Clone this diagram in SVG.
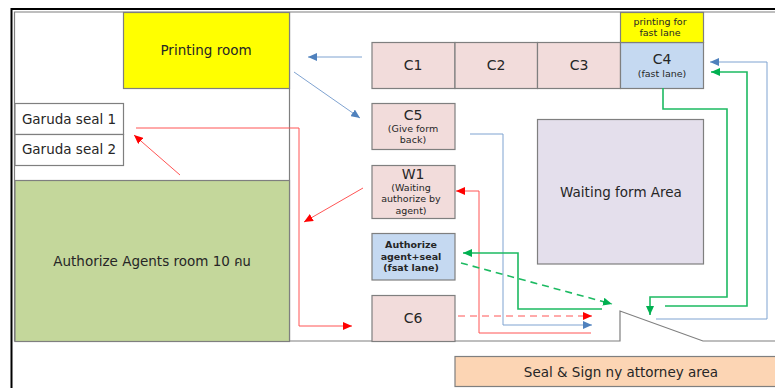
<svg xmlns="http://www.w3.org/2000/svg" width="775" height="388" viewBox="0 0 775 388">
<style>
text{font-family:"DejaVu Sans","Noto Sans","Noto Sans Thai",sans-serif;fill:#262626;text-anchor:middle}
.b{stroke:#7f7f7f;stroke-width:1.2}
.p{fill:#f2dcdb}.t{font-size:13.5px}.s{font-size:9.5px}.c{font-size:14px}
.l{fill:none;stroke-width:1}
.blue{stroke:#7fa3d1}.red{stroke:#f55}.green{stroke:#1dba62;stroke-width:1.6}
</style>
<defs>
<marker id="mb" markerUnits="userSpaceOnUse" markerWidth="10" markerHeight="8" refX="9" refY="4" orient="auto"><path d="M0 0L9 4L0 8z" fill="#4f81bd"/></marker>
<marker id="mr" markerUnits="userSpaceOnUse" markerWidth="10" markerHeight="8" refX="9" refY="4" orient="auto"><path d="M0 0L9 4L0 8z" fill="#f00"/></marker>
<marker id="mg" markerUnits="userSpaceOnUse" markerWidth="10" markerHeight="8" refX="9" refY="4" orient="auto"><path d="M0 0L9 4L0 8z" fill="#00b050"/></marker>
</defs>
<rect width="775" height="388" fill="#fff"/>
<g id="frame" fill="none">
<path d="M775 9H11.5V388" stroke="#000" stroke-width="2"/>
<path d="M775 12H14.5V341H620V311L703 341H775M289.500 12V341" stroke="#7f7f7f" stroke-width="1.2"/>
</g>
<g id="printing-room"><rect class="b" x="123.500" y="12.500" width="166" height="76" fill="#ff0"/><text class="t" x="206" y="55">Printing room</text></g>
<g id="garuda-1"><rect class="b" x="15" y="103.500" width="108.500" height="31" fill="#fff"/><text class="t" x="69" y="124">Garuda seal 1</text></g>
<g id="garuda-2"><rect class="b" x="15" y="134.500" width="108.500" height="31" fill="#fff"/><text class="t" x="69" y="154">Garuda seal 2</text></g>
<g id="agents-room"><rect class="b" x="15" y="180.500" width="274.500" height="161" fill="#c4d79b"/><text class="t" x="152" y="266">Authorize Agents room 10 คน</text></g>
<g id="c1"><rect class="b p" x="372" y="42.500" width="83" height="46"/><text class="c" x="413" y="70">C1</text></g>
<g id="c2"><rect class="b p" x="455" y="42.500" width="82.500" height="46"/><text class="c" x="496" y="70">C2</text></g>
<g id="c3"><rect class="b p" x="537.500" y="42.500" width="83" height="46"/><text class="c" x="579" y="70">C3</text></g>
<g id="c4"><rect class="b" x="620.500" y="42.500" width="83" height="46" fill="#c5d9f1"/><text class="c" x="662" y="64">C4</text><text class="s" x="662" y="77">(fast lane)</text></g>
<g id="printing-fast"><rect class="b" x="620.500" y="12.500" width="83" height="30" fill="#ff0"/><text class="s" x="660" y="25">printing for</text><text class="s" x="660" y="36">fast lane</text></g>
<g id="c5"><rect class="b p" x="372" y="103.500" width="83" height="46"/><text class="c" x="413" y="120">C5</text><text class="s" x="413" y="132">(Give form</text><text class="s" x="413" y="143">back)</text></g>
<g id="w1"><rect class="b p" x="372" y="165.500" width="83" height="53"/><text class="c" x="413" y="179">W1</text><text class="s" x="411" y="191">(Waiting</text><text class="s" x="411" y="202">authorize by</text><text class="s" x="411" y="214">agent)</text></g>
<g id="authorize"><rect class="b" x="372" y="233.500" width="83" height="46.500" fill="#c5d9f1"/><text class="s" x="411" y="248" font-weight="bold">Authorize</text><text class="s" x="411" y="260" font-weight="bold">agent+seal</text><text class="s" x="411" y="271" font-weight="bold">(fsat lane)</text></g>
<g id="c6"><rect class="b p" x="372" y="295.500" width="83" height="46"/><text class="c" x="413" y="323">C6</text></g>
<g id="waiting"><rect class="b" x="537.500" y="119.500" width="166" height="144.500" fill="#e4dfec"/><text class="t" x="621" y="197">Waiting form Area</text></g>
<g id="seal-sign"><rect class="b" x="455" y="356.500" width="325" height="30" fill="#fcd5b4"/><text class="t" x="621" y="377">Seal &amp; Sign ny attorney area</text></g>
<g id="connectors">
<path class="l blue" d="M362 57H308" marker-end="url(#mb)"/>
<path class="l blue" d="M294 72L360 118" marker-end="url(#mb)"/>
<path class="l blue" d="M470 134H503V325H592" marker-end="url(#mb)"/>
<path class="l blue" d="M656 319H767V62H710" marker-end="url(#mb)"/>
<path class="l red" d="M591 333H479V191H456" marker-end="url(#mr)"/>
<path class="l red" d="M363 188L304 222" marker-end="url(#mr)"/>
<path class="l red" d="M136 128H299V326H352" marker-end="url(#mr)"/>
<path class="l red" d="M180 175L134 135" marker-end="url(#mr)"/>
<path class="l red" d="M458 316H592" stroke-dasharray="7 5" marker-end="url(#mr)"/>
<path class="l green" d="M663 88V109H727V297H650V315" marker-end="url(#mg)"/>
<path class="l green" d="M665 306H747V72H711" marker-end="url(#mg)"/>
<path class="l green" d="M602 309H518V253H463" marker-end="url(#mg)"/>
<path class="l green" d="M461 263L612 304" stroke-dasharray="7 5" marker-end="url(#mg)"/>
</g>
</svg>
